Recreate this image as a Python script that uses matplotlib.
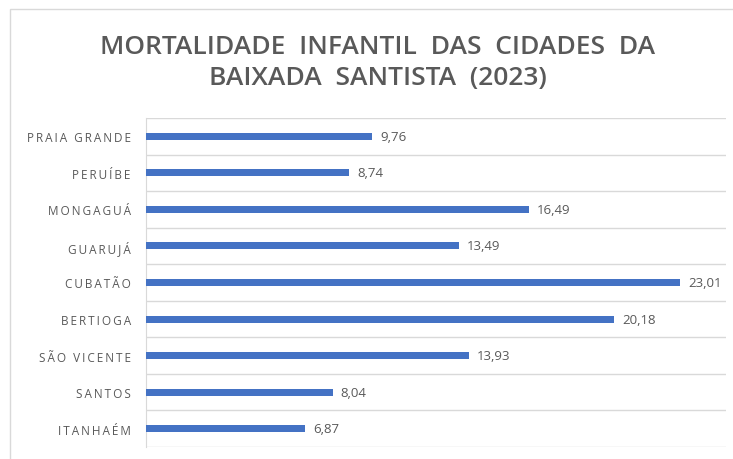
import matplotlib.pyplot as plt
from matplotlib.patches import Rectangle
import numpy as np

cidades = ['PRAIA GRANDE', 'PERUÍBE', 'MONGAGUÁ', 'GUARUJÁ', 'CUBATÃO',
           'BERTIOGA', 'SÃO VICENTE', 'SANTOS', 'ITANHAÉM']
mortalidade = [9.76, 8.74, 16.49, 13.49, 23.01, 20.18, 13.93, 8.04, 6.87]
titulo = 'MORTALIDADE  INFANTIL  DAS  CIDADES  DA\nBAIXADA  SANTISTA  (2023)'

cinza = '#595959'
azul = '#4472C4'

plt.rcParams['font.family'] = ['Open Sans', 'DejaVu Sans']

fig = plt.figure(figsize=(7.33, 4.6), dpi=100)
# moldura cinza clara do gráfico
fig.patches.append(Rectangle((10 / 733, -0.1), 1.2, 1.1 - 10 / 460,
                             transform=fig.transFigure, fill=False,
                             edgecolor='#D9D9D9', linewidth=1))
ax = fig.add_axes([146 / 733, 12 / 460, 580 / 733, 329 / 460])

y = np.arange(len(cidades))
ax.barh(y, mortalidade, height=0.19, color=azul, zorder=3)
for yi, v in zip(y, mortalidade):
    ax.text(v + 0.35, yi, f'{v:.2f}'.replace('.', ','), va='center', ha='left',
            fontsize=9.5, color=cinza)

ax.set_xlim(0, 25)
ax.set_ylim(len(cidades) - 0.5, -0.5)
ax.set_yticks(y)
ax.set_yticklabels(['\u2009'.join(c) for c in cidades], fontsize=8.5, color=cinza)
ax.set_yticks(np.arange(-0.5, len(cidades)), minor=True)
ax.tick_params(axis='y', which='both', length=0, pad=11)
ax.set_xticks([])
ax.grid(axis='y', which='minor', color='#D9D9D9', linewidth=1)
for s in ['top', 'right', 'bottom']:
    ax.spines[s].set_visible(False)
ax.spines['left'].set_color('#D9D9D9')

fig.text(378 / 733, 1 - 63 / 460, titulo, ha='center', va='center',
         fontsize=19, fontweight='semibold', color=cinza, linespacing=1.35)

fig.savefig('out.png', dpi=100)
